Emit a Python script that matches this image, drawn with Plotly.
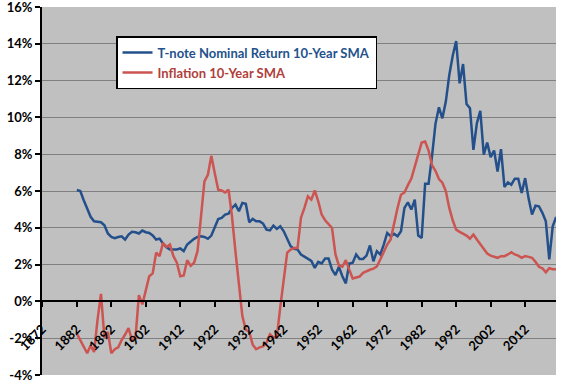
import plotly.graph_objects as go

years = list(range(1882, 2022))

tnote_sma = [
    6.05, 6.0, 5.5, 5.05, 4.6, 4.35, 4.32, 4.3, 4.14, 3.69,   # 1882-1891
    3.5, 3.43, 3.5, 3.54, 3.36, 3.63, 3.78, 3.76, 3.69, 3.85,  # 1892-1901
    3.76, 3.72, 3.58, 3.36, 3.41, 3.13, 2.94, 2.82, 2.82, 2.82,  # 1902-1911
    2.88, 2.73, 3.09, 3.27, 3.4, 3.5, 3.54, 3.5, 3.4, 3.58,    # 1912-1921
    4.08, 4.48, 4.54, 4.72, 4.77, 5.08, 5.26, 4.9, 5.35, 5.31,  # 1922-1931
    4.3, 4.48, 4.35, 4.35, 4.23, 3.9, 3.86, 4.12, 3.94, 4.08,   # 1932-1941
    3.81, 3.36, 3.0, 2.86, 2.82, 2.55, 2.42, 2.3, 2.2, 1.82,    # 1942-1951
    2.15, 2.06, 2.33, 2.33, 1.73, 1.43, 1.88, 1.37, 0.98, 2.06,  # 1952-1961
    2.1, 2.55, 2.31, 2.31, 2.49, 3.04, 2.18, 2.73, 2.55, 3.09,   # 1962-1971
    3.72, 3.54, 3.67, 3.54, 3.81, 5.08, 5.38, 4.99, 5.53, 3.58,  # 1972-1981
    3.45, 6.4, 6.4, 7.9, 9.65, 10.55, 9.95, 10.86, 12.3, 13.35,  # 1982-1991
    14.15, 11.85, 12.9, 10.73, 10.5, 8.24, 9.68, 10.35, 7.97, 8.63,  # 1992-2001
    7.84, 8.2, 7.06, 8.27, 6.22, 6.47, 6.34, 6.67, 6.67, 5.89,   # 2002-2011
    6.7, 5.6, 4.72, 5.2, 5.17, 4.81, 4.35, 2.28, 4.08, 4.59,     # 2012-2021
]

inflation_sma = [
    -1.75, -2.1, -2.45, -2.82, -2.4, -2.75, -1.0, 0.41, -1.97, -1.66,  # 1882-1891
    -2.82, -2.6, -2.5, -2.1, -1.8, -1.45, -2.12, -2.0, 0.34, -0.16,    # 1892-1901
    0.6, 1.37, 1.52, 2.65, 2.46, 3.18, 2.96, 3.09, 2.46, 2.1,          # 1902-1911
    1.37, 1.41, 2.24, 1.93, 2.1, 2.73, 4.6, 6.52, 6.88, 7.91,          # 1912-1921
    6.97, 6.07, 6.03, 5.92, 6.07, 4.6, 2.7, 0.9, -0.8, -1.55,          # 1922-1931
    -1.65, -2.35, -2.6, -2.5, -2.45, -2.24, -1.79, -1.95, -1.95, -0.3,  # 1932-1941
    1.2, 2.65, 2.82, 2.9, 2.9, 4.55, 5.08, 5.71, 5.53, 6.03,           # 1942-1951
    5.44, 4.72, 4.41, 4.17, 3.99, 2.55, 1.95, 1.88, 2.24, 1.73,        # 1952-1961
    1.25, 1.3, 1.35, 1.55, 1.65, 1.72, 1.78, 1.9, 2.28, 2.73,          # 1962-1971
    3.09, 3.36, 4.27, 5.08, 5.8, 5.92, 6.32, 6.68, 7.33, 7.98,         # 1972-1981
    8.63, 8.69, 8.2, 7.4, 7.1, 6.65, 6.45, 6.0, 5.08, 4.41,            # 1982-1991
    3.9, 3.78, 3.67, 3.58, 3.41, 3.63, 3.36, 3.09, 2.86, 2.6,          # 1992-2001
    2.49, 2.42, 2.37, 2.46, 2.46, 2.55, 2.67, 2.55, 2.49, 2.37,        # 2002-2011
    2.46, 2.42, 2.37, 2.15, 1.88, 1.8, 1.58, 1.8, 1.75, 1.75,          # 2012-2021
]

x_tickvals = list(range(1872, 2013, 10))
y_tickvals = [-4, -2, 0, 2, 4, 6, 8, 10, 12, 14, 16]
y_ticktext = ["-4%", "-2%", "0%", "2%", "4%", "6%", "8%", "10%", "12%", "14%", "16%"]

series_names = ["T-note Nominal Return 10-Year SMA", "Inflation 10-Year SMA"]
blue = "#23508B"
red = "#CC5451"

font_family = "Lato, 'Open Sans', sans-serif"

fig = go.Figure()
fig.add_trace(go.Scatter(
    x=years, y=tnote_sma, mode="lines",
    line=dict(color=blue, width=2.5),
    name='<span style="color:%s">%s</span>' % ("#24528C", series_names[0]),
))
fig.add_trace(go.Scatter(
    x=years, y=inflation_sma, mode="lines",
    line=dict(color=red, width=2.5),
    name='<span style="color:%s">%s</span>' % ("#B0403C", series_names[1]),
))

fig.update_layout(
    width=576, height=384,
    margin=dict(l=42, r=20, t=7, b=9, autoexpand=False),
    paper_bgcolor="white",
    plot_bgcolor="#C0C0C0",
    font=dict(family=font_family, size=13, color="black", weight="bold"),
    showlegend=True,
    legend=dict(
        x=0.144, y=0.921, xanchor="left", yanchor="top",
        bgcolor="white", bordercolor="black", borderwidth=1.5,
        font=dict(family=font_family, size=13, weight="bold"),
        itemwidth=30,
    ),
    xaxis=dict(
        range=[1871.9, 2020.95],
        tickmode="array", tickvals=x_tickvals,
        ticktext=[str(v) for v in x_tickvals],
        tickangle=-45,
        anchor="free", position=0.2,
        showline=True, linecolor="black", linewidth=2,
        ticks="outside", ticklen=5, tickwidth=2, tickcolor="black",
        ticklabelstandoff=9,
        showgrid=False, zeroline=False, automargin=False,
        ticklabeloverflow="allow",
        tickfont=dict(family=font_family, size=13, weight="bold"),
    ),
    yaxis=dict(
        range=[-4, 16.0001],
        tickmode="array", tickvals=y_tickvals, ticktext=y_ticktext,
        showline=True, linecolor="black", linewidth=2,
        ticks="outside", ticklen=5, tickwidth=2, tickcolor="black",
        showgrid=True, gridcolor="#808080", gridwidth=1,
        zeroline=False, automargin=False,
        ticklabeloverflow="allow",
        tickfont=dict(family=font_family, size=13, weight="bold"),
    ),
)

fig.write_html(
    "out.html",
    config={"displayModeBar": False},
    post_script="document.body.style.margin='0px';",
)
